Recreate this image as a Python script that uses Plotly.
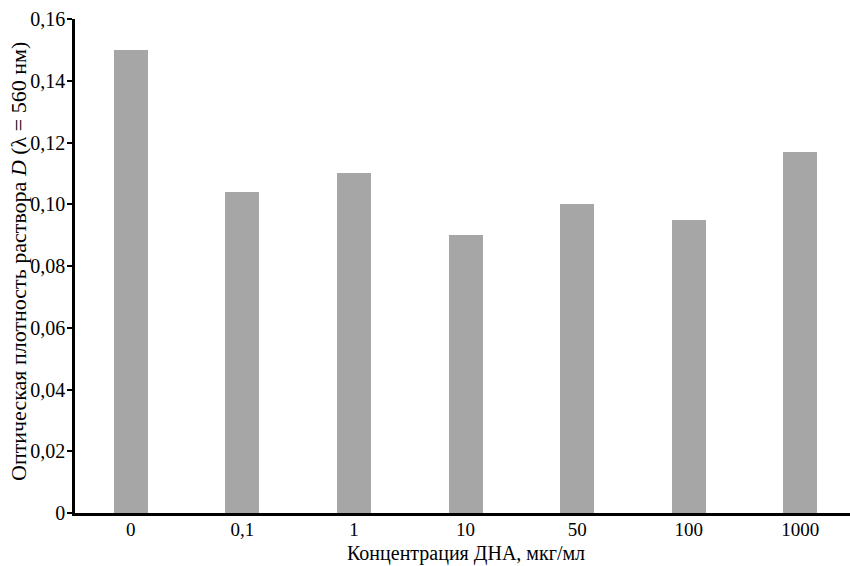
import plotly.graph_objects as go

categories = ["0", "0,1", "1", "10", "50", "100", "1000"]
values = [0.150, 0.104, 0.110, 0.090, 0.100, 0.095, 0.117]
y_tickvals = [0, 0.02, 0.04, 0.06, 0.08, 0.10, 0.12, 0.14, 0.16]
y_ticktext = ["0", "0,02", "0,04", "0,06", "0,08", "0,10", "0,12", "0,14", "0,16"]
x_title = "Концентрация ДНА, мкг/мл"
y_title = "Оптическая плотность раствора <i>D</i> (λ = 560 нм)"

font_family = "Liberation Serif, 'Times New Roman', serif"

fig = go.Figure(go.Bar(
    x=list(range(len(categories))), y=values,
    marker=dict(color="#a6a6a6", line=dict(width=0)),
    width=0.305,
))

fig.update_layout(
    width=850, height=566,
    margin=dict(l=75, r=0, t=19, b=53),
    plot_bgcolor="white", paper_bgcolor="white",
    font=dict(family=font_family, size=20, color="black"),
    showlegend=False,
    bargap=0,
)
fig.update_xaxes(
    range=[-0.5, 6.445],
    tickvals=list(range(len(categories))), ticktext=categories,
    showline=True, linecolor="black", linewidth=2.5,
    ticks="", showgrid=False, zeroline=False,
    tickfont=dict(size=19),
    ticklabelstandoff=-3,
    automargin=False,
)
fig.update_yaxes(
    range=[0, 0.16],
    tickvals=y_tickvals, ticktext=y_ticktext,
    showline=True, linecolor="black", linewidth=2.5,
    ticks="outside", ticklen=5, tickwidth=2, tickcolor="black",
    showgrid=False, zeroline=False,
    tickfont=dict(size=20),
    ticklabelstandoff=-2,
    automargin=False,
)
fig.add_annotation(
    text=x_title, xref="paper", yref="paper", x=0.505, y=0,
    xanchor="center", yanchor="middle", yshift=-40, showarrow=False,
    font=dict(size=20), borderpad=0,
)
fig.add_annotation(
    text=y_title, xref="paper", yref="paper", x=0, y=0.5,
    xanchor="center", yanchor="middle", xshift=-57, yshift=4,
    textangle=-90, showarrow=False,
    font=dict(size=22), borderpad=0,
)

fig.write_html("out.html", config={"displayModeBar": False},
               post_script="document.body.style.margin='0';")
